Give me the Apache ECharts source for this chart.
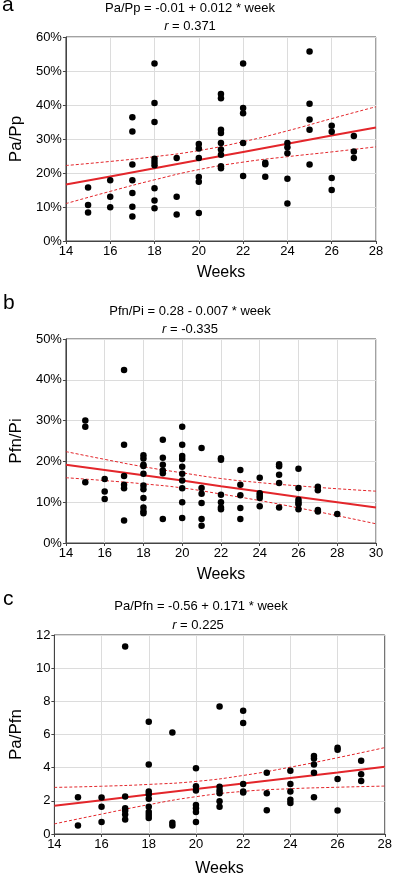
<!DOCTYPE html>
<html>
<head>
<meta charset="utf-8">
<script src="https://cdn.jsdelivr.net/npm/echarts@6/dist/echarts.min.js"></script>
<style>
  html, body { margin: 0; padding: 0; background: #fff; }
  #chart { width: 395px; height: 878px; }
</style>
</head>
<body>
<div id="chart"></div>
<script>
// panel a: Pa/Pp (%) vs weeks
var aWeeks = [15,15,15, 16,16,16, 17,17,17,17,17,17,17, 18,18,18,18,18,18,18,18,18, 19,19,19,
  20,20,20,20,20,20, 21,21,21,21,21,21,21,21,21, 22,22,22,22,22, 23,23,23, 24,24,24,24,24,
  25,25,25,25,25, 26,26,26,26, 27,27,27]
var aValues = [15.7,10.6,8.4, 17.9,13.0,9.9, 36.4,32.2,22.5,17.9,14.1,10.1,7.2,
  52.2,40.6,35.0,24.2,23.2,22.3,15.5,11.9,9.6, 24.4,13.0,7.8,
  28.5,27.2,24.4,18.8,17.4,8.2, 43.2,42.0,32.7,31.8,28.8,26.9,25.4,22.0,21.4,
  52.2,39.1,37.6,28.8,19.1, 23.0,22.6,18.9, 28.8,27.6,25.8,18.3,11.0,
  55.7,40.4,35.7,32.7,22.5, 33.9,32.1,18.5,15.0, 30.9,26.3,24.4]
var aBandWeeks = [14, 16, 18, 20, 22, 24, 26, 28]
var aFit = [16.6, 19.0, 21.4, 23.8, 26.2, 28.6, 31.0, 33.4]
var aUpper = [22.2, 23.4, 24.8, 26.6, 29.2, 32.4, 36.0, 39.5]
var aLower = [11.0, 14.6, 18.0, 21.0, 23.2, 24.8, 26.2, 27.7]

// panel b: Pfn/Pi (%) vs weeks
var bWeeks = [15,15,15, 16,16,16, 17,17,17,17,17,17, 18,18,18,18,18,18,18,18,18,18,18,
  19,19,19,19,19,19, 20,20,20,20,20,20,20,20,20,20, 21,21,21,21,21,21,
  22,22,22,22,22,22, 23,23,23,23,23, 24,24,24,24,24, 25,25,25,25,25,
  26,26,26,26,26,26, 27,27,27,27, 28]
var bValues = [30.0,28.5,14.9, 15.7,12.6,10.8, 42.4,24.1,16.4,14.3,13.4,5.5,
  21.5,20.7,19.2,18.9,17.0,14.1,13.2,11.0,8.7,7.8,7.3,
  25.3,20.9,19.2,17.8,17.1,5.9, 28.5,24.1,21.3,20.6,18.7,17.0,15.3,13.4,10.0,6.1,
  23.3,13.5,12.1,9.8,5.9,4.2, 20.8,20.4,11.8,10.0,8.7,8.3,
  17.9,14.3,11.7,8.6,5.9, 16.0,12.2,11.6,11.0,9.0, 19.3,18.8,16.7,14.7,8.7,
  18.2,13.5,10.6,10.0,9.5,8.3, 13.8,12.9,8.1,7.7, 7.1]
var bBandWeeks = [14, 16, 18, 20, 22, 24, 26, 28, 30]
var bFit = [19.2, 17.9, 16.6, 15.3, 13.9, 12.6, 11.3, 10.0, 8.7]
var bUpper = [22.4, 20.5, 18.7, 17.2, 15.8, 14.8, 14.0, 13.3, 12.7]
var bLower = [16.0, 15.3, 14.5, 13.5, 12.0, 10.4, 8.6, 6.7, 4.7]

// panel c: Pa/Pfn vs weeks
var cWeeks = [15,15, 16,16,16, 17,17,17,17,17,17, 18,18,18,18,18,18,18,18,18, 19,19,19,
  20,20,20,20,20,20,20, 21,21,21,21,21,21, 22,22,22,22,22, 23,23,23, 24,24,24,24,24,
  25,25,25,25,25, 26,26,26,26, 27,27,27]
var cValues = [2.22,0.51, 2.2,1.64,0.73, 11.3,2.26,1.55,1.4,1.17,0.87,
  6.77,4.19,2.57,2.4,2.13,1.65,1.33,1.15,0.97, 6.12,0.68,0.52,
  3.96,2.88,2.62,1.75,1.55,1.32,0.73, 7.69,2.85,2.62,2.46,1.98,1.65,
  7.43,6.69,3.02,2.56,2.5, 3.69,2.46,1.43, 3.81,3.02,2.56,2.07,1.87,
  4.7,4.55,4.19,3.69,2.22, 5.2,5.08,3.32,1.41, 4.42,3.6,3.2]
var cBandWeeks = [14, 16, 18, 20, 22, 24, 26, 28]
var cFit = [1.71, 2.04, 2.38, 2.71, 3.05, 3.38, 3.71, 4.05]
var cUpper = [2.81, 2.88, 2.99, 3.17, 3.53, 4.03, 4.60, 5.21]
var cLower = [0.61, 1.20, 1.77, 2.25, 2.57, 2.73, 2.82, 2.89]

var FONT = '"Liberation Sans", Arial, sans-serif'
var RED = '#e3262b'

function pairs(xs, ys) {
  return xs.map(function (x, i) { return [x, ys[i]] })
}

function xAxisOf(idx, max, gap) {
  return {
    gridIndex: idx, type: 'value', min: 14, max: max, interval: 2,
    name: 'Weeks', nameLocation: 'middle', nameGap: gap,
    nameTextStyle: { fontFamily: FONT, fontSize: 16, color: '#000' },
    axisLine: { show: true, onZero: false, lineStyle: { color: '#444', width: 1 } },
    axisTick: { show: true, length: 3, lineStyle: { color: '#444' } },
    axisLabel: { fontFamily: FONT, fontSize: 13, color: '#000', margin: 4 },
    splitLine: { show: true, lineStyle: { color: '#dcdcdc', width: 1 } }
  }
}

function yAxisOf(idx, name, max, interval, pct, gap) {
  return {
    gridIndex: idx, type: 'value', min: 0, max: max, interval: interval,
    name: name, nameLocation: 'middle', nameGap: gap, nameRotate: 90,
    nameTextStyle: { fontFamily: FONT, fontSize: 17, color: '#000' },
    axisLine: { show: true, onZero: false, lineStyle: { color: '#444', width: 1 } },
    axisTick: { show: true, length: 3, lineStyle: { color: '#444' } },
    axisLabel: {
      fontFamily: FONT, fontSize: 13, color: '#000', margin: 4,
      formatter: pct ? '{value}%' : '{value}'
    },
    splitLine: { show: true, lineStyle: { color: '#dcdcdc', width: 1 } }
  }
}

function panelSeries(idx, weeks, values, bandWeeks, fit, upper, lower) {
  return [{
    type: 'scatter', xAxisIndex: idx, yAxisIndex: idx,
    symbol: 'circle', symbolSize: 6.5,
    itemStyle: { color: '#000', opacity: 1 },
    data: pairs(weeks, values), z: 3
  }, {
    type: 'line', xAxisIndex: idx, yAxisIndex: idx, smooth: true, symbol: 'none',
    lineStyle: { color: RED, width: 1, type: [3, 2] },
    data: pairs(bandWeeks, upper), z: 2
  }, {
    type: 'line', xAxisIndex: idx, yAxisIndex: idx, smooth: true, symbol: 'none',
    lineStyle: { color: RED, width: 1, type: [3, 2] },
    data: pairs(bandWeeks, lower), z: 2
  }, {
    type: 'line', xAxisIndex: idx, yAxisIndex: idx, symbol: 'none',
    lineStyle: { color: RED, width: 2 },
    data: pairs(bandWeeks, fit), z: 2
  }]
}

function titleOf(text, left, top) {
  return {
    text: text, left: left, top: top, textAlign: 'center', padding: 0,
    textStyle: {
      fontFamily: FONT, fontSize: 13, fontWeight: 'normal', color: '#000',
      rich: { i: { fontFamily: FONT, fontSize: 13, fontStyle: 'italic', color: '#000' } }
    }
  }
}

function letterOf(text, x, y) {
  return {
    type: 'text', left: x, top: y,
    style: { text: text, font: '21px ' + FONT, fill: '#000' }
  }
}

var myChart = echarts.init(document.getElementById('chart'))
var option = {
  animation: false,
  title: [
    titleOf('Pa/Pp = -0.01 + 0.012 * week', 190, 2),
    titleOf('{i|r} = 0.371', 190, 20),
    titleOf('Pfn/Pi = 0.28 - 0.007 * week', 190, 305),
    titleOf('{i|r} = -0.335', 190, 323),
    titleOf('Pa/Pfn = -0.56 + 0.171 * week', 201, 600),
    titleOf('{i|r} = 0.225', 198, 619)
  ],
  graphic: [letterOf('a', 2, -5), letterOf('b', 3, 293), letterOf('c', 3, 589)],
  grid: [
    { left: 50, top: 37, width: 326, height: 204, show: true, borderColor: '#444', borderWidth: 1 },
    { left: 51, top: 339, width: 325, height: 204, show: true, borderColor: '#444', borderWidth: 1 },
    { left: 53, top: 635, width: 334, height: 201, show: true, borderColor: '#444', borderWidth: 1 }
  ],
  xAxis: [xAxisOf(0, 28, 24), xAxisOf(1, 30, 24), xAxisOf(2, 28, 27)],
  yAxis: [
    yAxisOf(0, 'Pa/Pp', 60, 10, true, 33),
    yAxisOf(1, 'Pfn/Pi', 50, 10, true, 33),
    yAxisOf(2, 'Pa/Pfn', 12, 2, false, 26)
  ],
  series: [].concat(
    panelSeries(0, aWeeks, aValues, aBandWeeks, aFit, aUpper, aLower),
    panelSeries(1, bWeeks, bValues, bBandWeeks, bFit, bUpper, bLower),
    panelSeries(2, cWeeks, cValues, cBandWeeks, cFit, cUpper, cLower)
  )
}
myChart.setOption(option)
</script>
</body>
</html>
